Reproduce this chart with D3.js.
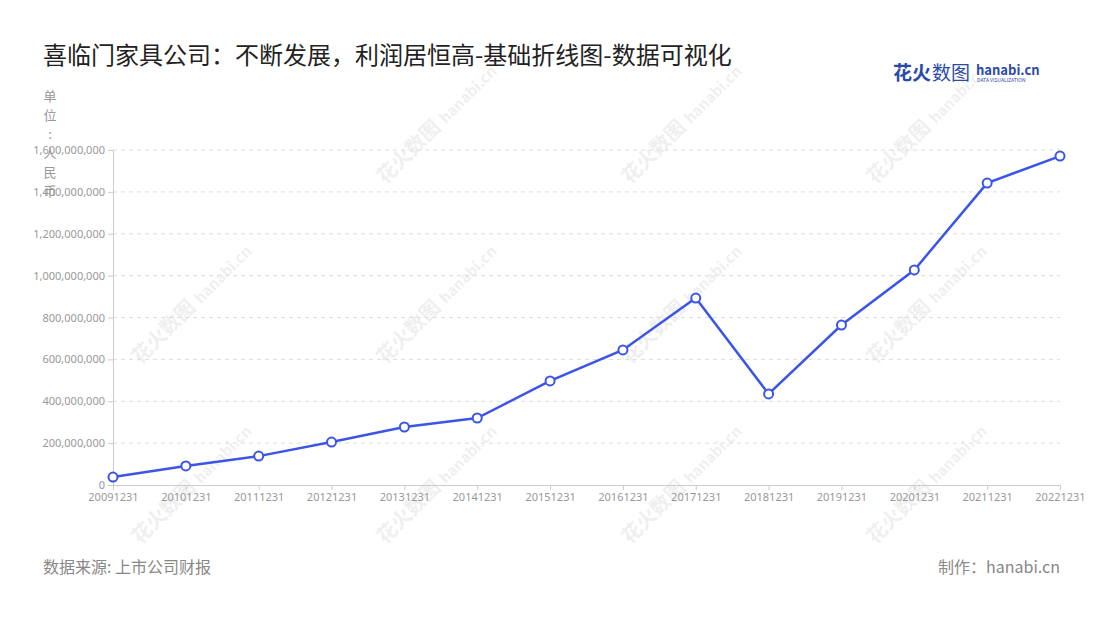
<!DOCTYPE html>
<html><head><meta charset="utf-8">
<script src="https://cdn.jsdelivr.net/npm/d3@7"></script>
<style>body{margin:0;background:#fff;font-family:"Noto Sans CJK SC","Noto Sans",sans-serif;}</style>
</head><body>
<svg id="chart" width="1100" height="620"></svg>
<script>
var years = ["20091231","20101231","20111231","20121231","20131231","20141231","20151231","20161231","20171231","20181231","20191231","20201231","20211231","20221231"];
var profits = [38e6, 91e6, 138e6, 205e6, 277e6, 320e6, 497e6, 645e6, 893e6, 435e6, 764e6, 1027e6, 1442e6, 1571e6];
var yTicks = [0, 2e8, 4e8, 6e8, 8e8, 1e9, 1.2e9, 1.4e9, 1.6e9];

var svg = d3.select("#chart");
var margin = {top: 150, left: 113, right: 40, bottom: 135};
var width = 1100 - margin.left - margin.right,
    height = 620 - margin.top - margin.bottom;

// watermarks
[[385,185],[630,185],[875,185],[140,365],[385,365],[630,365],[875,365],[140,545],[385,545],[630,545],[875,545]].forEach(function(p){
  var w = svg.append("g").attr("transform","translate("+p+") rotate(-45)").attr("opacity",0.07);
  w.append("text").attr("font-size",20).attr("font-weight","bold").attr("fill","#333").text("花火数图");
  w.append("text").attr("x",86).attr("font-size",15).attr("font-weight","bold").attr("fill","#333").text("hanabi.cn");
});

var x = d3.scalePoint().domain(years).range([0, width]);
var y = d3.scaleLinear().domain([0, 1.6e9]).range([height, 0]);

var g = svg.append("g").attr("transform","translate("+margin.left+","+margin.top+")");

g.selectAll(".grid").data(yTicks.slice(1)).enter().append("line")
  .attr("x1",0).attr("x2",width).attr("y1",y).attr("y2",y)
  .attr("stroke","#ddd").attr("stroke-dasharray","4,4");

var ya = g.append("g").call(d3.axisLeft(y).tickValues(yTicks).tickFormat(d3.format(",")).tickSize(5));
ya.select(".domain").attr("stroke","#ccc");
ya.selectAll("line").attr("stroke","#ccc");
ya.selectAll("text").attr("fill","#999").attr("font-size",11).attr("font-family","Noto Sans");

var xa = g.append("g").attr("transform","translate(0,"+height+")").call(d3.axisBottom(x).tickSize(5));
xa.select(".domain").attr("stroke","#ccc");
xa.selectAll("line").attr("stroke","#ccc");
xa.selectAll("text").attr("fill","#999").attr("font-size",11).attr("font-family","Noto Sans");

var line = d3.line().x(function(d,i){return x(years[i]);}).y(function(d){return y(d);});
g.append("path").datum(profits).attr("d",line).attr("fill","none").attr("stroke","#3b55e6").attr("stroke-width",2.5);
g.selectAll(".pt").data(profits).enter().append("circle")
  .attr("cx",function(d,i){return x(years[i]);}).attr("cy",y).attr("r",4.5)
  .attr("fill","#fff").attr("stroke","#3b55e6").attr("stroke-width",2);

svg.append("text").attr("x",43).attr("y",64).attr("font-size",24).attr("fill","#222").text("喜临门家具公司：不断发展，利润居恒高-基础折线图-数据可视化");

"单位：人民币".split("").forEach(function(c,i){
  svg.append("text").attr("x",50).attr("y",101+i*19).attr("text-anchor","middle").attr("font-size",13).attr("fill","#999").text(c==="："?":":c);
});

svg.append("text").attr("x",43).attr("y",573).attr("font-size",16).attr("fill","#888").text("数据来源: 上市公司财报");
svg.append("text").attr("x",1060).attr("y",573).attr("text-anchor","end").attr("font-size",16).attr("fill","#888").text("制作：hanabi.cn");

svg.append("text").attr("x",893).attr("y",80).attr("font-size",19).attr("font-weight","bold").attr("fill","#2b4aa8").text("花火");
svg.append("text").attr("x",932).attr("y",80).attr("font-size",19).attr("fill","#2b4aa8").text("数图");
svg.append("text").attr("x",976).attr("y",75).attr("font-size",13).attr("font-weight","bold").attr("fill","#2b4aa8").text("hanabi.cn");
svg.append("text").attr("x",977).attr("y",82).attr("font-size",5).attr("fill","#2b4aa8").text("DATA VISUALIZATION");
</script>
</body></html>
